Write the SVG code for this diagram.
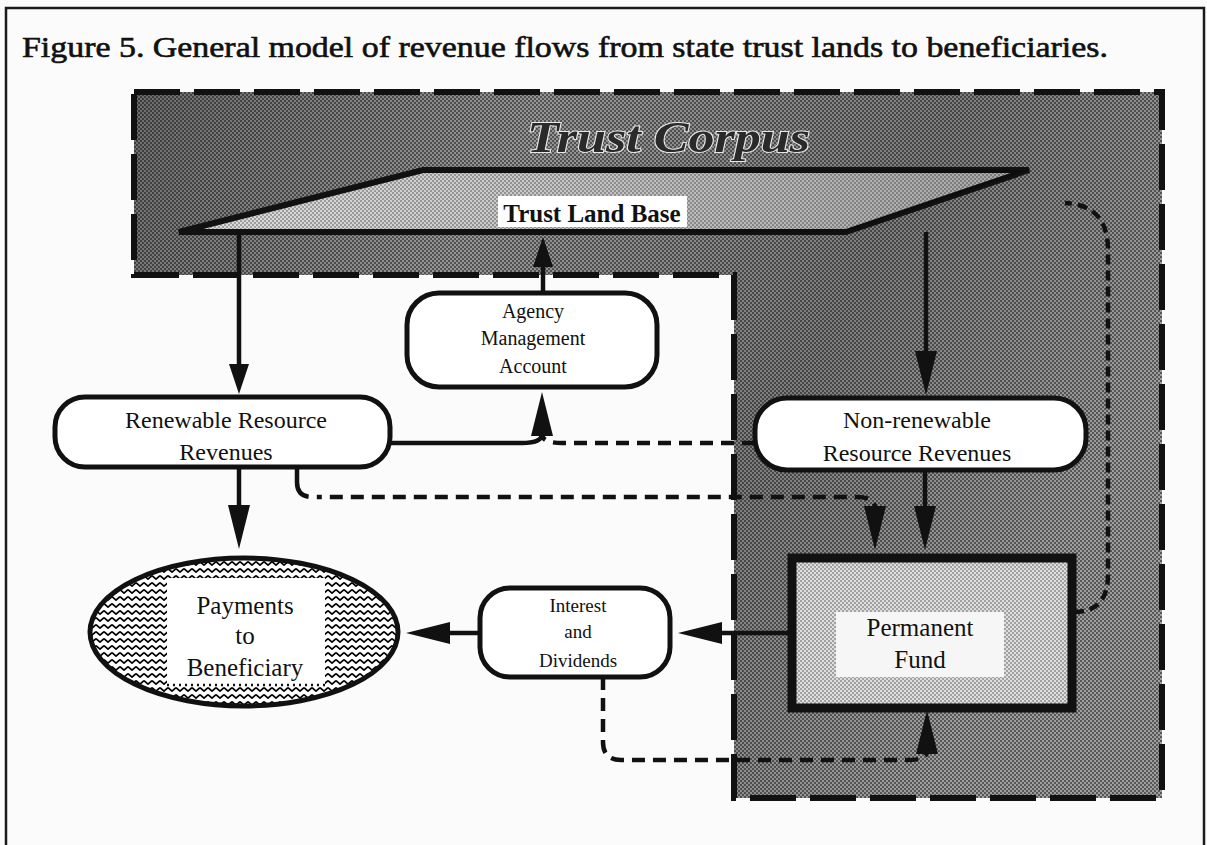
<svg xmlns="http://www.w3.org/2000/svg" width="1207" height="845" viewBox="0 0 1207 845">
<style>
.frame{fill:none;stroke:#1a1a1a;stroke-width:2.5}
.cborder{fill:none;stroke:#111;stroke-width:6;stroke-dasharray:46 14}
.box{fill:#fff;stroke:#111;stroke-width:5}
.t{font-family:"Liberation Serif","Times New Roman",serif;fill:#111;text-anchor:middle}
.ln{fill:none;stroke:#111;stroke-width:4.5}
.dash{stroke-dasharray:13 8}
.dash2{stroke-dasharray:10 6}
</style>
<defs>
<pattern id="ht" width="4" height="4" patternUnits="userSpaceOnUse">
<rect width="4" height="4" fill="#a6a6a6"/>
<rect width="2" height="2" fill="#5c5c5c"/>
<rect x="2" y="2" width="2" height="2" fill="#5c5c5c"/>
</pattern>
<pattern id="htl" width="4" height="4" patternUnits="userSpaceOnUse">
<rect width="4" height="4" fill="#dedede"/>
<rect width="2" height="2" fill="#a2a2a2"/>
<rect x="2" y="2" width="2" height="2" fill="#a2a2a2"/>
</pattern>
<pattern id="wave" width="8" height="7" patternUnits="userSpaceOnUse">
<rect width="8" height="7" fill="#fff"/>
<path d="M0,1.5 L4,5.2 L8,1.5" fill="none" stroke="#000" stroke-width="1.7" stroke-linejoin="round"/>
</pattern>
<linearGradient id="shade" x1="0" y1="0" x2="1" y2="0.4">
<stop offset="0" stop-color="#000" stop-opacity="0.35"/>
<stop offset="0.35" stop-color="#000" stop-opacity="0.1"/>
<stop offset="0.7" stop-color="#000" stop-opacity="0.25"/>
<stop offset="1" stop-color="#000" stop-opacity="0.05"/>
</linearGradient>
<linearGradient id="pshade" x1="0" y1="0" x2="1" y2="0">
<stop offset="0" stop-color="#000" stop-opacity="0"/>
<stop offset="1" stop-color="#000" stop-opacity="0.25"/>
</linearGradient>
<marker id="ah" markerUnits="userSpaceOnUse" markerWidth="46" markerHeight="22" refX="2" refY="11" orient="auto" overflow="visible">
<path d="M0,0 L44,11 L0,22 z" fill="#111"/>
</marker>
<marker id="ahs" markerUnits="userSpaceOnUse" markerWidth="32" markerHeight="20" refX="2" refY="10" orient="auto" overflow="visible">
<path d="M0,0 L30,10 L0,20 z" fill="#111"/>
</marker>
</defs>
<rect width="1207" height="845" fill="#fbfbfb"/>
<rect class="frame" x="6" y="8" width="1198" height="860"/>
<text id="title" x="22" y="57" font-family="'Liberation Serif','Times New Roman',serif" font-size="29" fill="#111" stroke="#111" stroke-width="0.6" textLength="1086" lengthAdjust="spacingAndGlyphs">Figure 5.  General model of revenue flows from state trust lands to beneficiaries.</text>

<g id="trust-corpus">
<path d="M134,92 H1162 V798 H734 V275 H134 Z" fill="url(#ht)"/>
<path d="M134,92 H1162 V798 H734 V275 H134 Z" fill="url(#shade)"/>
<path class="cborder" d="M134,92 H1162 V798 H734 V275 H134 Z"/>
<text x="527" y="152" font-family="'Liberation Serif','Times New Roman',serif" font-size="45" font-weight="bold" font-style="italic" fill="#2a2a2a" stroke="#e8e8e8" stroke-width="2" paint-order="stroke" textLength="283" lengthAdjust="spacingAndGlyphs">Trust Corpus</text>
</g>

<g id="trust-land-base">
<polygon points="179,232 423,170 1029,170 846,232" fill="url(#htl)" stroke="#111" stroke-width="6" stroke-linejoin="miter"/>
<polygon points="179,232 423,170 1029,170 846,232" fill="url(#pshade)"/>
<rect x="498" y="196" width="189" height="31" fill="#fff"/>
<text class="t" x="592" y="222" font-size="25" font-weight="bold">Trust Land Base</text>
</g>

<g id="connectors">
<path class="ln" d="M239,232 V366" marker-end="url(#ahs)"/>
<path class="ln" d="M239,467 V507" marker-end="url(#ah)"/>
<path class="ln" d="M926,232 V353" marker-end="url(#ah)"/>
<path class="ln" d="M925,470 V508" marker-end="url(#ah)"/>
<path class="ln" d="M543,293 V265" marker-end="url(#ahs)"/>
<path class="ln" d="M390,443 H522 Q542,443 542,434" marker-end="url(#ah)"/>
<path class="ln dash" d="M755,443 H562 Q542,443 542,434"/>
<path class="ln" stroke-dasharray="36 8 5 8 13 8 13 8 13 8 13 8 13 8 13 8 13 8 13 8 13 8 13 8 13 8 13 8 13 8 13 8 13 8 13 8 13 8 13 8 13 8 13 8 13 8 13 8 13 8 13 8 13 8 13 8 13 8 13 8 13 8 40 8" d="M297,467 V482 Q297,497 312,497 H857 Q875,497 875,508" marker-end="url(#ah)"/>
<path class="ln" d="M480,633 H448" marker-end="url(#ah)"/>
<path class="ln" d="M792,633 H720" marker-end="url(#ah)"/>
<path class="ln dash" d="M603,677 V742 Q603,760 621,760 H907 Q927,760 927,752" marker-end="url(#ah)"/>
<path class="ln dash2" d="M1074,612 Q1108,612 1108,575 V250 Q1108,205 1065,203"/>
</g>

<g id="agency">
<rect class="box" x="407" y="293" width="250" height="94" rx="32"/>
<text class="t" x="533" y="318" font-size="20">Agency</text>
<text class="t" x="533" y="345" font-size="20">Management</text>
<text class="t" x="533" y="373" font-size="20">Account</text>
</g>

<g id="renewable">
<rect class="box" x="55" y="397" width="335" height="70" rx="30"/>
<text class="t" x="226" y="428" font-size="24">Renewable Resource</text>
<text class="t" x="226" y="460" font-size="24">Revenues</text>
</g>

<g id="nonrenewable">
<rect class="box" x="755" y="398" width="331" height="72" rx="32"/>
<text class="t" x="917" y="428" font-size="24">Non-renewable</text>
<text class="t" x="917" y="461" font-size="24">Resource Revenues</text>
</g>

<g id="permanent-fund">
<rect x="792" y="558" width="280" height="150" fill="url(#htl)" stroke="#111" stroke-width="9"/>
<rect x="836" y="612" width="168" height="65" fill="#f6f6f6"/>
<text class="t" x="920" y="636" font-size="25">Permanent</text>
<text class="t" x="920" y="668" font-size="25">Fund</text>
</g>

<g id="interest">
<rect class="box" x="480" y="588" width="190" height="89" rx="30"/>
<text class="t" x="578" y="612" font-size="19">Interest</text>
<text class="t" x="578" y="638" font-size="19">and</text>
<text class="t" x="578" y="667" font-size="19">Dividends</text>
</g>

<g id="payments">
<ellipse cx="244" cy="632" rx="154" ry="74" fill="url(#wave)" stroke="#111" stroke-width="5"/>
<rect x="167" y="578" width="158" height="107" fill="#fff"/>
<line x1="167" y1="685" x2="325" y2="685" stroke="#111" stroke-width="2.5" stroke-dasharray="2 4"/>
<text class="t" x="245" y="614" font-size="25">Payments</text>
<text class="t" x="245" y="644" font-size="25">to</text>
<text class="t" x="245" y="676" font-size="25">Beneficiary</text>
</g>
</svg>
